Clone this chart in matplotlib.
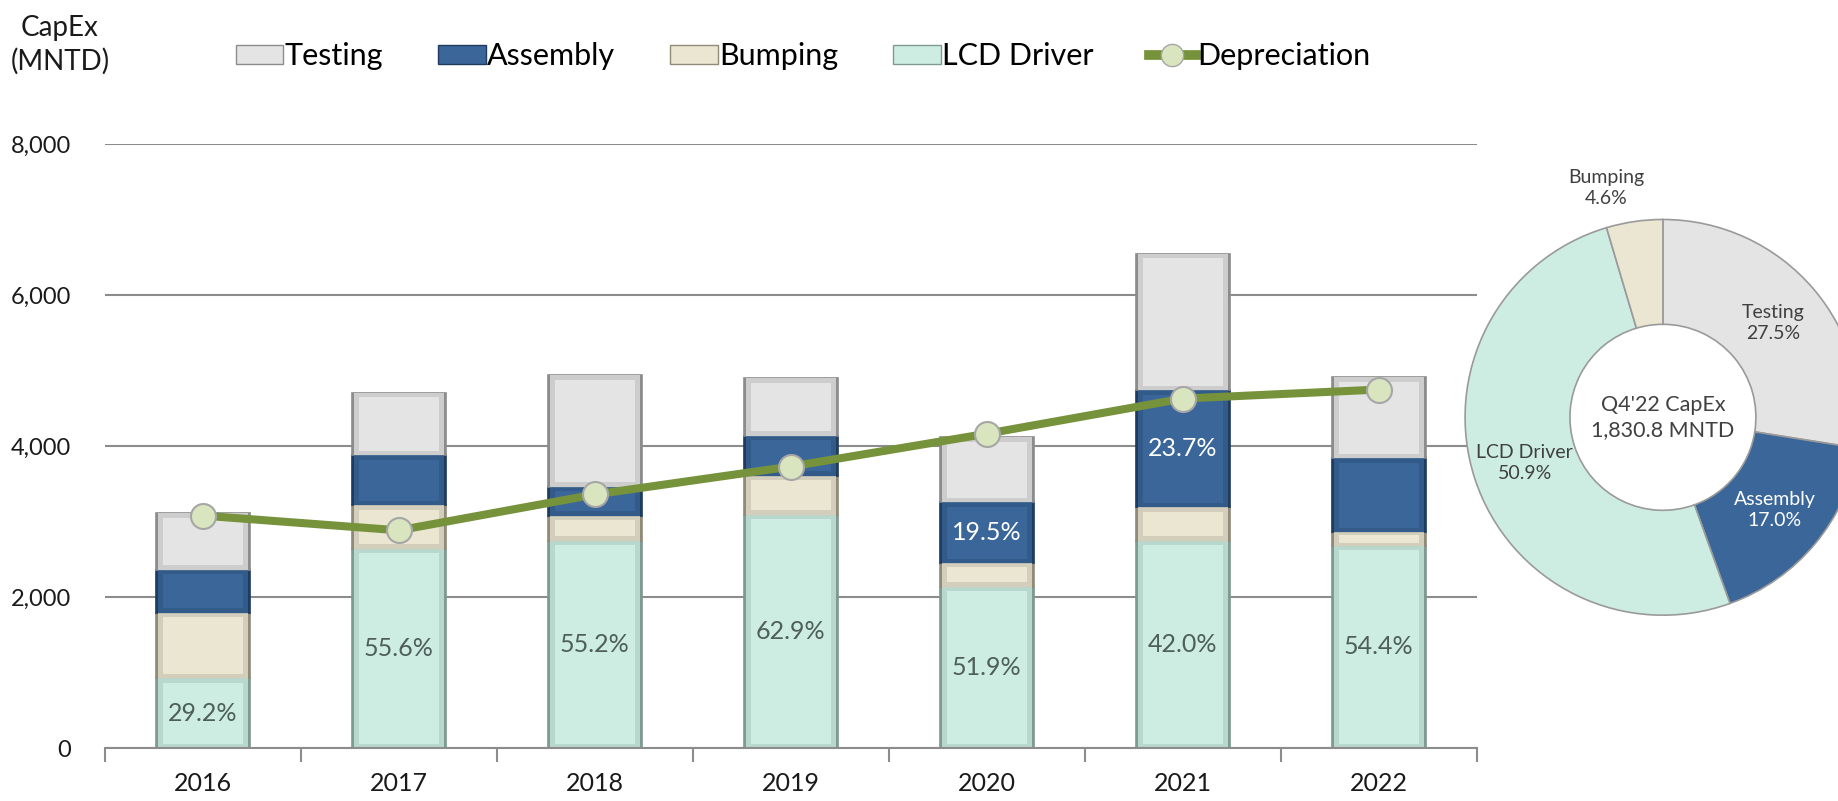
import numpy as np
import matplotlib
matplotlib.use("Agg")
import matplotlib.pyplot as plt
from matplotlib.patches import Patch
from matplotlib.lines import Line2D

plt.rcParams['font.family'] = ['Lato', 'DejaVu Sans']

# data (MNTD)
years = ['2016', '2017', '2018', '2019', '2020', '2021', '2022']
lcd_driver = [925, 2640, 2750, 3090, 2140, 2750, 2680]
bumping = [870, 580, 330, 520, 310, 440, 180]
assembly = [570, 660, 380, 530, 805, 1550, 980]
testing = [745, 830, 1480, 760, 860, 1810, 1070]
depreciation = [3080, 2885, 3360, 3730, 4165, 4630, 4750]
lcd_labels = ['29.2%', '55.6%', '55.2%', '62.9%', '51.9%', '42.0%', '54.4%']
assembly_labels = ['', '', '', '', '19.5%', '23.7%', '']

donut_names = ['Testing', 'Assembly', 'LCD Driver', 'Bumping']
donut_share = [27.5, 17.0, 50.9, 4.6]

# colours
c_test, e_test = '#E4E4E4', '#8C8C8C'
c_asm, e_asm = '#3A6699', '#1F3B5E'
c_bump, e_bump = '#EAE6D2', '#8F8B78'
c_lcd, e_lcd = '#CDEDE2', '#7E9A92'
c_dep = '#76933C'
c_mark = '#D9E5BE'

fig = plt.figure(figsize=(18.38, 8.01), dpi=100)
ax = fig.add_axes([0.057, 0.066, 0.7465, 0.754])

x = np.arange(len(years))
w = 0.48
series = [(lcd_driver, c_lcd, e_lcd), (bumping, c_bump, e_bump),
          (assembly, c_asm, e_asm), (testing, c_test, e_test)]
bottom = np.zeros(len(years))
for vals, fc, ec in series:
    vals = np.array(vals, dtype=float)
    # outer (bevel edge) and inner face
    ax.bar(x, vals, w, bottom=bottom, color=ec, edgecolor=ec, linewidth=1.2, zorder=2)
    ax.bar(x, vals, w - 0.02, bottom=bottom, color=fc, alpha=0.75, linewidth=0, zorder=2.1)
    inset = np.minimum(60, vals * 0.18)
    ax.bar(x, vals - 2 * inset, w - 0.07, bottom=bottom + inset, color=fc, linewidth=0, zorder=2.2)
    bottom += vals

# labels inside bars
lcd_arr = np.array(lcd_driver, dtype=float)
bump_arr = np.array(bumping, dtype=float)
asm_arr = np.array(assembly, dtype=float)
for i in range(len(years)):
    ax.text(x[i], lcd_arr[i] / 2, lcd_labels[i], ha='center', va='center',
            fontsize=18, color='#4E5E5A', zorder=5)
    if assembly_labels[i]:
        ax.text(x[i], lcd_arr[i] + bump_arr[i] + asm_arr[i] / 2, assembly_labels[i],
                ha='center', va='center', fontsize=18, color='white', zorder=5)

ax.plot(x, depreciation, color=c_dep, linewidth=5.8, zorder=4,
        marker='o', markersize=18, markerfacecolor=c_mark, markeredgecolor='#A6A6A6',
        markeredgewidth=1.5)

ax.set_xlim(-0.5, len(years) - 0.5)
ax.set_ylim(0, 8000)
ax.set_yticks([0, 2000, 4000, 6000, 8000])
ax.set_yticklabels(['0', '2,000', '4,000', '6,000', '8,000'], fontsize=17, color='#1A1A1A')
ax.yaxis.grid(True, color='#8C8C8C', linewidth=1.5, zorder=0)
ax.set_axisbelow(True)
ax.tick_params(axis='y', length=0, pad=24)
ax.set_xticks(x)
ax.set_xticklabels(years, fontsize=18, color='#1A1A1A')
ax.set_xticks(np.arange(-0.5, len(years), 1.0), minor=True)
ax.tick_params(axis='x', which='major', length=0, pad=17)
ax.tick_params(axis='x', which='minor', length=10, width=1.5, color='#8C8C8C')
for s in ['top', 'right', 'left']:
    ax.spines[s].set_visible(False)
ax.spines['bottom'].set_color('#8C8C8C')
ax.spines['bottom'].set_linewidth(1.5)

fig.text(0.0326, 0.944, 'CapEx\n(MNTD)', fontsize=20, color='#1A1A1A', va='center',
         ha='center', linespacing=1.3)

handles = [Patch(facecolor=c_test, edgecolor=e_test, label='Testing'),
           Patch(facecolor=c_asm, edgecolor=e_asm, label='Assembly'),
           Patch(facecolor=c_bump, edgecolor=e_bump, label='Bumping'),
           Patch(facecolor=c_lcd, edgecolor=e_lcd, label='LCD Driver'),
           Line2D([], [], color=c_dep, linewidth=7, marker='o', markersize=16,
                  markerfacecolor=c_mark, markeredgecolor='#A6A6A6', label='Depreciation')]
fig.legend(handles=handles, loc='center', bbox_to_anchor=(0.437, 0.93), ncol=5,
           frameon=False, fontsize=22, handlelength=1.55, handleheight=0.6,
           handletextpad=0.05, columnspacing=1.8)

# donut for Q4'22
dax = fig.add_axes([0.797, 0.232, 0.2155, 0.494])
donut_colors = [c_test, c_asm, c_lcd, c_bump]
wedges, _ = dax.pie(donut_share, colors=donut_colors, startangle=90, counterclock=False,
                    radius=1.0, wedgeprops=dict(width=0.53, edgecolor='#9A9A9A', linewidth=1.2))
dax.set_xlim(-1, 1)
dax.set_ylim(-1, 1)
dax.set_aspect('equal')

start = 90.0
for name, share, wd in zip(donut_names, donut_share, wedges):
    mid = np.deg2rad(start - share * 3.6 / 2)
    start -= share * 3.6
    r = 0.735 if share > 10 else 1.17
    col = 'white' if name == 'Assembly' else '#404040'
    dax.text(r * np.cos(mid) - (0.12 if share < 10 else 0), r * np.sin(mid),
             f'{name}\n{share:.1f}%', ha='center', va='center', fontsize=14,
             color=col, linespacing=1.3)
dax.text(0, 0, "Q4'22 CapEx\n1,830.8 MNTD", ha='center', va='center', fontsize=15.5,
         color='#404040', linespacing=1.3)

fig.savefig('out.png', dpi=100)
